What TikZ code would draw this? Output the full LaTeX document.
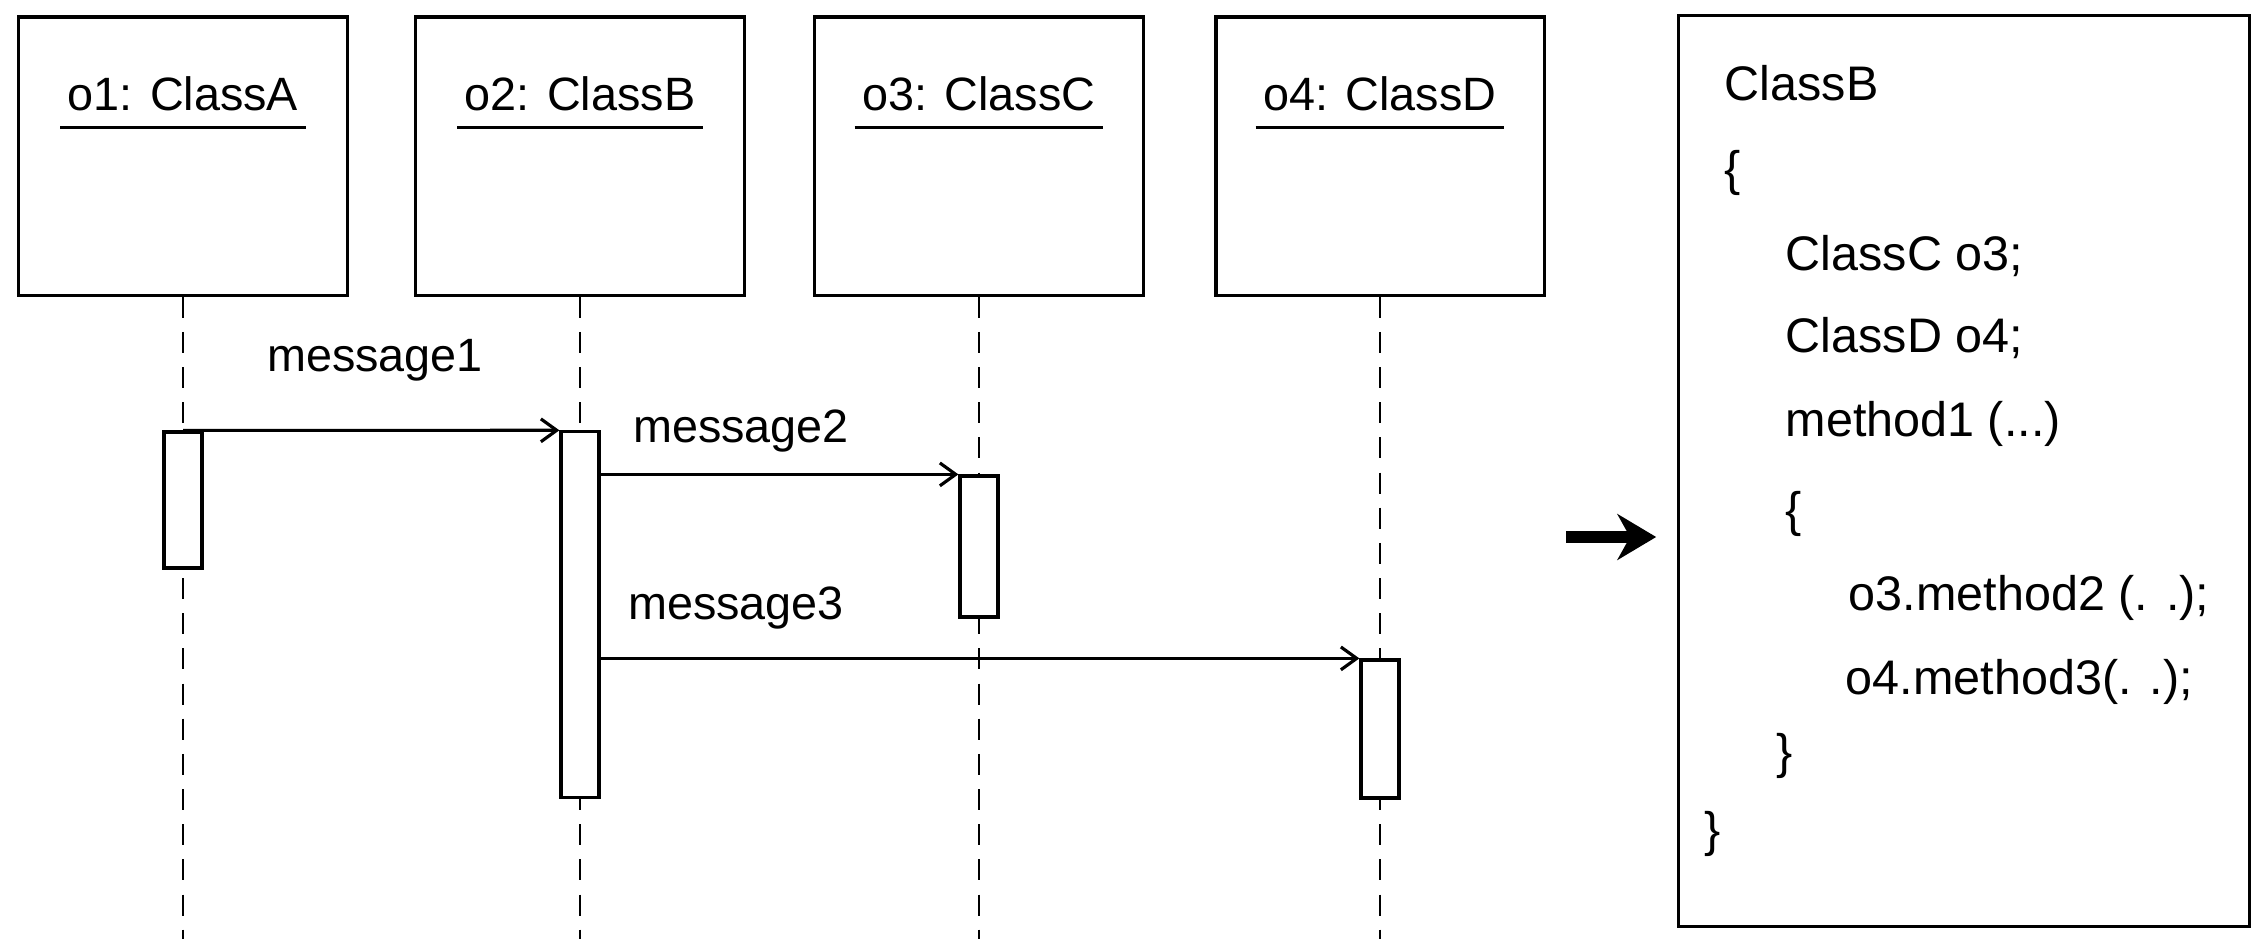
\documentclass[tikz,border=0pt]{standalone}
\usepackage{fontspec}
\setmainfont{Liberation Sans}
\usetikzlibrary{arrows.meta}

\begin{document}
\begin{tikzpicture}[x=0.01cm, y=-0.01cm,
	every node/.style={font=\fontsize{13.3}{16}\selectfont},
	objbox/.style={draw, line width=0.9pt, minimum width=3.28cm, minimum height=2.78cm, inner sep=0pt},
	objname/.style={anchor=base, inner xsep=2pt, inner ysep=4.7pt},
	actbox/.style={draw, fill=white, line width=0.9pt, minimum width=0.38cm, inner sep=0pt},
	lifeline/.style={line width=0.8pt, dash pattern=on 6pt off 4pt},
	msg/.style={line width=0.9pt, -{Straight Barb[length=4.5pt,width=6.5pt]}},
	codeline/.style={anchor=base west, inner sep=0pt, font=\fontsize{13.8}{16}\selectfont}]
					\useasboundingbox (0,0) rectangle (2263,939);

					% objects
					\node[objbox] (o1) at (183,156) {};
					\node[objbox] (o2) at (580,156) {};
					\node[objbox] (o3) at (979,156) {};
					\node[objbox] (o4) at (1380,156) {};
					\node[objname] (t1) at (183,110) {o1: ClassA};
					\node[objname] (t2) at (580,110) {o2: ClassB};
					\node[objname] (t3) at (979,110) {o3: ClassC};
					\node[objname] (t4) at (1380,110) {o4: ClassD};
					\draw[line width=0.9pt] (t1.south west) -- (t1.south east);
					\draw[line width=0.9pt] (t2.south west) -- (t2.south east);
					\draw[line width=0.9pt] (t3.south west) -- (t3.south east);
					\draw[line width=0.9pt] (t4.south west) -- (t4.south east);

					% lifelines
					\coordinate (e1) at (183,939);
					\coordinate (e2) at (580,939);
					\coordinate (e3) at (979,939);
					\coordinate (e4) at (1380,939);
					\draw[lifeline] (o1.south) -- (e1);
					\draw[lifeline] (o2.south) -- (e2);
					\draw[lifeline] (o3.south) -- (e3);
					\draw[lifeline] (o4.south) -- (e4);

					% activations
					\node[actbox, minimum height=1.36cm] (a1) at (183,500) {};
					\node[actbox, minimum height=3.65cm] (a2) at (580,614.5) {};
					\node[actbox, minimum height=1.41cm] (a3) at (979,546.5) {};
					\node[actbox, minimum height=1.38cm] (a4) at (1380,729) {};

					% messages
					\draw[msg] (a1.north) -- (a2.north west);
					\draw[msg] (a2.east |- a3.north) -- (a3.north west);
					\draw[msg] (a2.east |- a4.north) -- (a4.north west);
					\node (m1) at (375,360) {message1};
					\node (m2) at (741,431) {message2};
					\node (m3) at (736,608) {message3};

					% code of ClassB
					\node[draw, line width=0.9pt, minimum width=5.70cm, minimum height=9.10cm] (code) at (1964,471) {};
					\coordinate (g1) at (1566,537);
					\draw[line width=3.5pt, -{Stealth[length=11pt,width=13pt]}, shorten >=6pt] (g1) -- (code.west |- g1);
					\node[codeline] (c1) at (1724,100) {ClassB};
					\node[codeline] (c2) at (1724,185) {\{};
					\node[codeline] (c3) at (1785,270) {ClassC o3;};
					\node[codeline] (c4) at (1785,352) {ClassD o4;};
					\node[codeline] (c5) at (1785,436) {method1 (...)};
					\node[codeline] (c6) at (1785,526) {\{};
					\node[codeline] (c7) at (1848,610) {o3.method2 (. .);};
					\node[codeline] (c8) at (1845,694) {o4.method3(. .);};
					\node[codeline] (c9) at (1776,768) {\}};
					\node[codeline] (c10) at (1704,846) {\}};
				\end{tikzpicture}
\end{document}
